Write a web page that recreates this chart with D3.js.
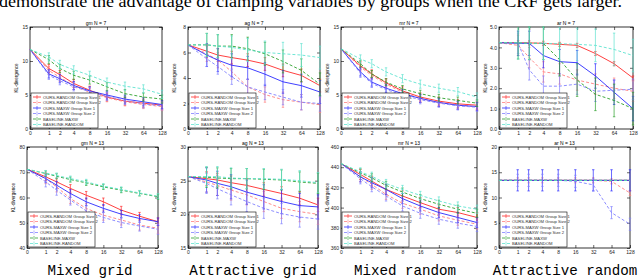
<!DOCTYPE html>
<html>
<head>
<meta charset="utf-8">
<script src="https://cdn.jsdelivr.net/npm/d3@7"></script>
<style>
  body { margin: 0; background: #fff; }
  svg { display: block; }
</style>
</head>
<body>
<svg id="fig" width="640" height="280"></svg>
<script>
// group sizes / number of clamped variables on the x axis
const xValues = [0, 1, 2, 4, 8, 16, 32, 64, 128];

const seriesNames = [
  "OURS-RANDOM Group Size 1",
  "OURS-RANDOM Group Size 2",
  "OURS-MAXW Group Size 1",
  "OURS-MAXW Group Size 2",
  "BASELINE-MAXW",
  "BASELINE-RANDOM"
];

const panelTitles = ["gm N = 7", "ag N = 7", "mr N = 7", "ar N = 7",
                     "gm N = 13", "ag N = 13", "mr N = 13", "ar N = 13"];
const captions = ["Mixed grid", "Attractive grid", "Mixed random", "Attractive random"];
const headline = "demonstrate the advantage of clamping variables by groups when the CRF gets larger.";

const yDomains = [[0, 15], [0, 8], [0, 15], [0, 5], [40, 80], [15, 30], [360, 460], [0, 20]];
const yTicks = [
  [0, 5, 10, 15], [0, 2, 4, 6, 8], [0, 5, 10, 15], [0, 1, 2, 3, 4, 5],
  [40, 50, 60, 70, 80], [15, 20, 25, 30], [360, 380, 400, 420, 440, 460], [0, 5, 10, 15, 20]
];

// one row per series, same order as seriesNames
const gm7 = [
  [11.7, 8.9, 8.0, 6.7, 5.7, 4.7, 4.1, 3.8, 3.5],
  [11.7, 8.6, 7.6, 6.4, 5.4, 4.6, 4.0, 3.6, 3.3],
  [11.7, 8.1, 7.4, 6.4, 5.6, 5.0, 4.4, 4.0, 3.6],
  [11.7, 7.9, 7.1, 6.2, 5.5, 4.8, 4.2, 3.7, 3.4],
  [11.7, 10.2, 8.9, 7.9, 7.2, 6.2, 5.2, 4.7, 4.4],
  [11.7, 10.6, 9.5, 8.7, 7.9, 6.9, 6.3, 5.9, 5.1]
];
const ag7 = [
  [6.6, 6.1, 5.8, 5.6, 5.4, 5.1, 4.6, 4.2, 3.4],
  [6.6, 5.9, 5.4, 4.5, 3.3, 2.7, 2.3, 2.1, 1.9],
  [6.6, 5.8, 5.4, 5.0, 4.8, 4.3, 3.7, 3.4, 2.9],
  [6.6, 5.5, 4.9, 4.1, 3.3, 2.9, 2.5, 2.1, 2.0],
  [6.6, 6.6, 6.5, 6.5, 6.3, 5.9, 5.3, 4.6, 3.5],
  [6.6, 6.6, 6.5, 6.4, 6.2, 6.0, 5.9, 5.8, 5.6]
];
const mr7 = [
  [11.8, 9.3, 8.1, 6.8, 5.6, 4.7, 4.1, 3.7, 3.5],
  [11.8, 9.1, 7.9, 6.6, 5.4, 4.5, 3.9, 3.5, 3.3],
  [11.8, 8.4, 6.9, 6.0, 5.2, 4.5, 3.9, 3.5, 3.3],
  [11.8, 8.2, 6.7, 5.8, 5.0, 4.3, 3.8, 3.4, 3.2],
  [11.8, 9.6, 8.1, 6.9, 5.9, 5.2, 4.6, 4.2, 3.8],
  [11.8, 10.3, 9.6, 8.4, 7.4, 6.6, 6.0, 5.5, 4.7]
];
const ar7 = [
  [4.23, 4.23, 4.22, 4.2, 4.15, 4.1, 3.7, 3.2, 2.5],
  [4.23, 4.1, 3.5, 2.8, 2.7, 2.4, 2.2, 2.0, 1.85],
  [4.23, 4.2, 4.2, 3.6, 3.3, 3.25, 2.6, 1.8, 1.0],
  [4.23, 4.2, 2.9, 2.1, 2.1, 2.2, 1.85, 1.9, 1.95],
  [4.23, 4.23, 4.2, 4.2, 3.4, 2.4, 1.7, 1.4, 1.0],
  [4.23, 4.23, 4.2, 4.2, 4.18, 4.15, 4.1, 3.9, 3.6]
];
const gm13 = [
  [71.2, 68.2, 66.2, 63.6, 60.9, 58.3, 55.0, 52.6, 50.4],
  [71.2, 67.5, 64.2, 59.6, 55.7, 53.0, 51.1, 49.1, 47.8],
  [71.2, 67.5, 64.9, 61.6, 58.3, 55.7, 53.4, 51.7, 50.4],
  [71.2, 66.2, 62.9, 59.0, 54.7, 52.1, 50.1, 48.7, 47.4],
  [71.2, 69.5, 68.4, 67.1, 65.8, 64.2, 62.9, 61.6, 60.3],
  [71.2, 69.7, 68.7, 67.5, 66.2, 64.5, 63.2, 61.8, 60.5]
];
const ag13 = [
  [25.6, 25.3, 25.1, 24.7, 24.3, 23.7, 23.1, 22.4, 21.4],
  [25.6, 24.8, 24.3, 23.6, 22.9, 21.9, 20.9, 20.4, 20.0],
  [25.6, 25.1, 24.6, 24.1, 23.3, 22.6, 21.9, 21.3, 21.1],
  [25.6, 24.6, 23.8, 22.9, 21.9, 20.9, 20.1, 19.6, 19.3],
  [25.6, 25.5, 25.4, 25.3, 25.3, 25.2, 25.1, 24.8, 24.6],
  [25.6, 25.6, 25.6, 25.4, 25.3, 25.3, 25.2, 25.0, 24.7]
];
const mr13 = [
  [443.6, 432.8, 426.2, 418.0, 411.5, 404.9, 398.4, 395.1, 390.2],
  [443.6, 430.5, 423.0, 413.1, 404.3, 398.4, 391.8, 387.5, 383.6],
  [443.6, 430.5, 424.6, 418.0, 408.9, 401.6, 395.1, 390.2, 385.2],
  [443.6, 428.5, 420.7, 411.5, 401.6, 394.4, 388.5, 384.6, 381.3],
  [443.6, 434.4, 429.5, 422.0, 415.4, 408.9, 403.3, 398.4, 394.4],
  [443.6, 435.4, 431.1, 423.9, 418.0, 412.1, 406.6, 401.6, 398.4]
];
const ar13 = [
  [13.4, 13.4, 13.4, 13.4, 13.4, 13.4, 13.4, 13.4, 13.4],
  [13.4, 13.4, 13.4, 13.4, 13.4, 13.4, 13.4, 13.2, 10.9],
  [13.4, 13.4, 13.4, 13.4, 13.4, 13.4, 13.4, 13.4, 13.4],
  [13.4, 13.4, 13.4, 13.4, 13.4, 13.2, 12.5, 7.0, 4.7],
  [13.4, 13.4, 13.4, 13.4, 13.4, 13.4, 13.4, 13.4, 13.4],
  [13.4, 13.4, 13.4, 13.4, 13.4, 13.4, 13.4, 13.4, 13.4]
];

// error-bar half widths, one per series
const gm7Err = [0.6, 0.6, 0.6, 0.6, 0.6, 0.6];
const ag7Err = [0.5, 0.6, 0.9, 0.6, 0.9, 0.9];
const mr7Err = [0.6, 0.6, 0.6, 0.6, 0.5, 0.6];
const ar7Err = [0.1, 0.5, 0.6, 0.5, 0.8, 0.8];
const gm13Err = [1.5, 2.0, 1.5, 2.0, 1.0, 1.0];
const ag13Err = [1.0, 1.5, 1.8, 1.5, 1.5, 1.5];
const mr13Err = [5, 5, 5, 5, 4, 4];
const ar13Err = [0, 0.5, 2.1, 1.2, 0, 0];

const panelData = [gm7, ag7, mr7, ar7, gm13, ag13, mr13, ar13];
const panelErr = [gm7Err, ag7Err, mr7Err, ar7Err, gm13Err, ag13Err, mr13Err, ar13Err];

// ---- styling / layout ----
const colors = ["#ff2a2a", "#ff7f7f", "#2a2aff", "#8080ff", "#2ca02c", "#5fe3d0"];
const dashes = [null, "3,2", null, "3,2", "3,2", "3,2"];
const boxes = [
  {x0: 30, x1: 162, y0: 27, y1: 129}, {x0: 188, x1: 320, y0: 27, y1: 129},
  {x0: 341, x1: 477, y0: 27, y1: 129}, {x0: 499, x1: 633, y0: 27, y1: 129},
  {x0: 27, x1: 158, y0: 147, y1: 248}, {x0: 188, x1: 318, y0: 147, y1: 248},
  {x0: 341, x1: 477, y0: 147, y1: 248}, {x0: 499, x1: 630, y0: 147, y1: 248}
];
const captionX = [90, 253, 405, 565];
const tinyFont = "Liberation Sans, Arial, sans-serif";

const svg = d3.select("#fig");

svg.append("text")
  .attr("x", -1).attr("y", 7)
  .attr("font-family", "Liberation Serif, Times New Roman, serif")
  .attr("font-size", 17)
  .attr("textLength", 623)
  .attr("lengthAdjust", "spacingAndGlyphs")
  .text(headline);

panelData.forEach((rows, i) => {
  const b = boxes[i];
  const x = d3.scaleLinear()
    .domain([0, Math.log2(129)])
    .range([b.x0, b.x1]);
  const xp = v => x(Math.log2(v + 1));
  const y = d3.scaleLinear().domain(yDomains[i]).range([b.y1, b.y0]);

  const g = svg.append("g");

  // frame with inward ticks on all sides (matplotlib style)
  g.append("rect")
    .attr("x", b.x0).attr("y", b.y0)
    .attr("width", b.x1 - b.x0).attr("height", b.y1 - b.y0)
    .attr("fill", "none").attr("stroke", "#000").attr("stroke-width", 0.8);

  const xb = g.append("g").attr("transform", `translate(0,${b.y1})`)
    .call(d3.axisBottom(x).tickValues(xValues.map(v => Math.log2(v + 1)))
      .tickFormat((d, k) => xValues[k]).tickSizeInner(-3).tickSizeOuter(0).tickPadding(2));
  const xt = g.append("g").attr("transform", `translate(0,${b.y0})`)
    .call(d3.axisTop(x).tickValues(xValues.map(v => Math.log2(v + 1)))
      .tickFormat("").tickSizeInner(-3).tickSizeOuter(0));
  const yl = g.append("g").attr("transform", `translate(${b.x0},0)`)
    .call(d3.axisLeft(y).tickValues(yTicks[i]).tickSizeInner(-3).tickSizeOuter(0).tickPadding(2));
  const yr = g.append("g").attr("transform", `translate(${b.x1},0)`)
    .call(d3.axisRight(y).tickValues(yTicks[i]).tickFormat("").tickSizeInner(-3).tickSizeOuter(0));

  [xb, xt, yl, yr].forEach(a => {
    a.select(".domain").remove();
    a.selectAll("line").attr("stroke-width", 0.6);
    a.selectAll("text").attr("font-family", tinyFont).attr("font-size", 5).attr("fill", "#222");
  });

  g.append("text")
    .attr("x", (b.x0 + b.x1) / 2).attr("y", b.y0 - 2)
    .attr("text-anchor", "middle")
    .attr("font-family", tinyFont).attr("font-size", 5)
    .text(panelTitles[i]);

  g.append("text")
    .attr("transform", `translate(${b.x0 - 12},${(b.y0 + b.y1) / 2}) rotate(-90)`)
    .attr("text-anchor", "middle")
    .attr("font-family", tinyFont).attr("font-size", 4.5)
    .text("KL-divergence");

  const line = d3.line().x((d, k) => xp(xValues[k])).y(d => y(d));

  rows.forEach((vals, s) => {
    const err = panelErr[i][s];
    const col = colors[s];
    g.append("path")
      .datum(vals)
      .attr("d", line)
      .attr("fill", "none")
      .attr("stroke", col)
      .attr("stroke-width", 0.9)
      .attr("stroke-dasharray", dashes[s]);

    if (err > 0) {
      const eb = g.selectAll(null)
        .data(vals.map((v, k) => ({v, k})).filter(d => d.k > 0))
        .enter().append("g").attr("stroke", col).attr("stroke-width", 0.7);
      eb.append("line")
        .attr("x1", d => xp(xValues[d.k])).attr("x2", d => xp(xValues[d.k]))
        .attr("y1", d => Math.max(b.y0, y(d.v + err))).attr("y2", d => Math.min(b.y1, y(d.v - err)));
      eb.append("line")
        .attr("x1", d => xp(xValues[d.k]) - 1.2).attr("x2", d => xp(xValues[d.k]) + 1.2)
        .attr("y1", d => y(d.v + err)).attr("y2", d => y(d.v + err))
        .attr("display", d => y(d.v + err) < b.y0 ? "none" : null);
      eb.append("line")
        .attr("x1", d => xp(xValues[d.k]) - 1.2).attr("x2", d => xp(xValues[d.k]) + 1.2)
        .attr("y1", d => y(d.v - err)).attr("y2", d => y(d.v - err))
        .attr("display", d => y(d.v - err) > b.y1 ? "none" : null);
    }
  });

  // legend, lower left
  const lw = 67, lh = 35;
  const lg = g.append("g").attr("transform", `translate(${b.x0 + 1},${b.y1 - lh - 1})`);
  lg.append("rect").attr("width", lw).attr("height", lh)
    .attr("fill", "#fff").attr("stroke", "#000").attr("stroke-width", 0.6);
  seriesNames.forEach((name, s) => {
    const yy = 4 + s * 5.5;
    lg.append("line").attr("x1", 2).attr("x2", 10).attr("y1", yy).attr("y2", yy)
      .attr("stroke", colors[s]).attr("stroke-width", 0.8)
      .attr("stroke-dasharray", dashes[s]);
    lg.append("line").attr("x1", 6).attr("x2", 6).attr("y1", yy - 2).attr("y2", yy + 2)
      .attr("stroke", colors[s]).attr("stroke-width", 0.6);
    lg.append("text").attr("x", 12).attr("y", yy + 1.5)
      .attr("font-family", tinyFont).attr("font-size", 4.2).attr("fill", "#333")
      .text(name);
  });
});

captions.forEach((c, k) => {
  svg.append("text")
    .attr("x", captionX[k]).attr("y", 275)
    .attr("text-anchor", "middle")
    .attr("font-family", "Liberation Mono, Courier New, monospace")
    .attr("font-size", 14.2)
    .text(c);
});
</script>
</body>
</html>
